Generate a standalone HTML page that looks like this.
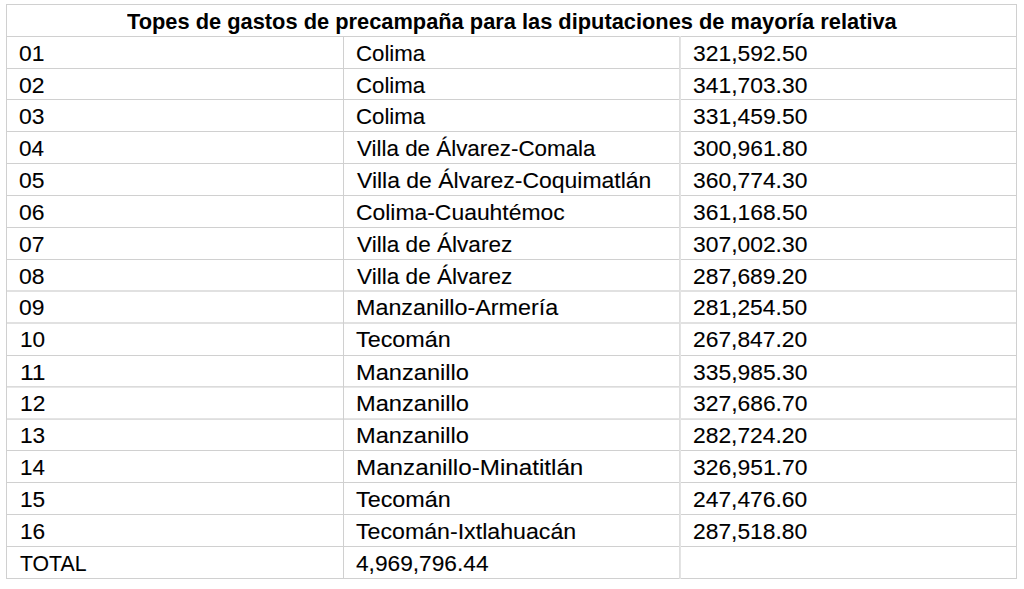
<!DOCTYPE html>
<html><head><meta charset="utf-8"><style>
html,body{margin:0;padding:0;background:#fff;width:1024px;height:589px;overflow:hidden;position:relative}
.h{position:absolute;height:1px;background:#c8c8c8;left:6px;width:1011px}
.v{position:absolute;width:1px;background:#c8c8c8}
.t{position:absolute;font-family:"Liberation Sans",sans-serif;font-size:22.4px;line-height:22.4px;white-space:pre;color:#000;transform-origin:0 0;-webkit-text-stroke:0.1px #000}
.b{font-weight:700;font-size:21.6px;line-height:21.6px;-webkit-text-stroke:0px #000}
</style></head><body>
<div class="h" style="top:4px;background:#d0d0d0"></div>
<div class="h" style="top:36px;background:#d0d0d0"></div>
<div class="h" style="top:68px;background:#d0d0d0"></div>
<div class="h" style="top:99px;background:#d0d0d0"></div>
<div class="h" style="top:131px;background:#d0d0d0"></div>
<div class="h" style="top:163px;background:#d0d0d0"></div>
<div class="h" style="top:195px;background:#d0d0d0"></div>
<div class="h" style="top:227px;background:#d0d0d0"></div>
<div class="h" style="top:259px;background:#d0d0d0"></div>
<div class="h" style="top:290px;background:#e1e1e1"></div>
<div class="h" style="top:291px;background:#e1e1e1"></div>
<div class="h" style="top:322px;background:#e1e1e1"></div>
<div class="h" style="top:323px;background:#e1e1e1"></div>
<div class="h" style="top:355px;background:#d0d0d0"></div>
<div class="h" style="top:386px;background:#dbdbdb"></div>
<div class="h" style="top:387px;background:#e7e7e7"></div>
<div class="h" style="top:418px;background:#e4e4e4"></div>
<div class="h" style="top:419px;background:#dedede"></div>
<div class="h" style="top:450px;background:#d0d0d0"></div>
<div class="h" style="top:482px;background:#d0d0d0"></div>
<div class="h" style="top:514px;background:#d0d0d0"></div>
<div class="h" style="top:546px;background:#d0d0d0"></div>
<div class="h" style="top:578px;background:#d0d0d0"></div>
<div class="v" style="left:6px;top:4px;height:575px;background:#d0d0d0"></div>
<div class="v" style="left:343px;top:36px;height:543px;background:#d0d0d0"></div>
<div class="v" style="left:679px;top:36px;height:543px;background:#dedede"></div>
<div class="v" style="left:680px;top:36px;height:543px;background:#e4e4e4"></div>
<div class="v" style="left:1016px;top:4px;height:575px;background:#d0d0d0"></div>
<div class="t b" style="left:126.68px;top:10.50px;transform:scaleX(1.0106)">Topes de gastos de precampaña para las diputaciones de mayoría relativa</div>
<div class="t" style="left:18.82px;top:43.00px;transform:scaleX(1.0203)">01</div>
<div class="t" style="left:355.97px;top:43.00px;transform:scaleX(0.9927)">Colima</div>
<div class="t" style="left:693.25px;top:43.00px;transform:scaleX(1.0206)">321,592.50</div>
<div class="t" style="left:18.81px;top:75.00px;transform:scaleX(1.0231)">02</div>
<div class="t" style="left:355.97px;top:75.00px;transform:scaleX(0.9927)">Colima</div>
<div class="t" style="left:693.25px;top:75.00px;transform:scaleX(1.0206)">341,703.30</div>
<div class="t" style="left:19.40px;top:106.00px;transform:scaleX(1.0220)">03</div>
<div class="t" style="left:355.97px;top:106.00px;transform:scaleX(0.9927)">Colima</div>
<div class="t" style="left:693.25px;top:106.00px;transform:scaleX(1.0206)">331,459.50</div>
<div class="t" style="left:19.41px;top:138.00px;transform:scaleX(1.0035)">04</div>
<div class="t" style="left:356.68px;top:138.00px;transform:scaleX(1.0001)">Villa de Álvarez-Comala</div>
<div class="t" style="left:693.25px;top:138.00px;transform:scaleX(1.0206)">300,961.80</div>
<div class="t" style="left:19.40px;top:170.00px;transform:scaleX(1.0214)">05</div>
<div class="t" style="left:356.66px;top:170.00px;transform:scaleX(1.0253)">Villa de Álvarez-Coquimatlán</div>
<div class="t" style="left:693.25px;top:170.00px;transform:scaleX(1.0206)">360,774.30</div>
<div class="t" style="left:19.40px;top:202.00px;transform:scaleX(1.0220)">06</div>
<div class="t" style="left:355.95px;top:202.00px;transform:scaleX(1.0226)">Colima-Cuauhtémoc</div>
<div class="t" style="left:693.25px;top:202.00px;transform:scaleX(1.0206)">361,168.50</div>
<div class="t" style="left:18.81px;top:234.00px;transform:scaleX(1.0231)">07</div>
<div class="t" style="left:356.68px;top:234.00px;transform:scaleX(1.0091)">Villa de Álvarez</div>
<div class="t" style="left:693.25px;top:234.00px;transform:scaleX(1.0206)">307,002.30</div>
<div class="t" style="left:19.40px;top:266.00px;transform:scaleX(1.0220)">08</div>
<div class="t" style="left:356.68px;top:266.00px;transform:scaleX(1.0091)">Villa de Álvarez</div>
<div class="t" style="left:693.12px;top:266.00px;transform:scaleX(1.0191)">287,689.20</div>
<div class="t" style="left:18.82px;top:297.00px;transform:scaleX(1.0198)">09</div>
<div class="t" style="left:356.35px;top:297.00px;transform:scaleX(1.0414)">Manzanillo-Armería</div>
<div class="t" style="left:693.12px;top:297.00px;transform:scaleX(1.0191)">281,254.50</div>
<div class="t" style="left:19.72px;top:329.00px;transform:scaleX(1.0087)">10</div>
<div class="t" style="left:355.80px;top:329.00px;transform:scaleX(1.0433)">Tecomán</div>
<div class="t" style="left:693.12px;top:329.00px;transform:scaleX(1.0191)">267,847.20</div>
<div class="t" style="left:19.79px;top:362.00px;transform:scaleX(1.1000)">11</div>
<div class="t" style="left:356.14px;top:362.00px;transform:scaleX(1.0553)">Manzanillo</div>
<div class="t" style="left:693.25px;top:362.00px;transform:scaleX(1.0206)">335,985.30</div>
<div class="t" style="left:19.71px;top:393.00px;transform:scaleX(1.0145)">12</div>
<div class="t" style="left:356.14px;top:393.00px;transform:scaleX(1.0553)">Manzanillo</div>
<div class="t" style="left:693.25px;top:393.00px;transform:scaleX(1.0206)">327,686.70</div>
<div class="t" style="left:19.72px;top:425.00px;transform:scaleX(1.0125)">13</div>
<div class="t" style="left:356.14px;top:425.00px;transform:scaleX(1.0553)">Manzanillo</div>
<div class="t" style="left:693.12px;top:425.00px;transform:scaleX(1.0191)">282,724.20</div>
<div class="t" style="left:19.74px;top:457.00px;transform:scaleX(1.0009)">14</div>
<div class="t" style="left:356.37px;top:457.00px;transform:scaleX(1.0808)">Manzanillo-Minatitlán</div>
<div class="t" style="left:693.25px;top:457.00px;transform:scaleX(1.0206)">326,951.70</div>
<div class="t" style="left:19.72px;top:489.00px;transform:scaleX(1.0122)">15</div>
<div class="t" style="left:355.80px;top:489.00px;transform:scaleX(1.0433)">Tecomán</div>
<div class="t" style="left:693.12px;top:489.00px;transform:scaleX(1.0191)">247,476.60</div>
<div class="t" style="left:19.72px;top:521.00px;transform:scaleX(1.0125)">16</div>
<div class="t" style="left:355.80px;top:521.00px;transform:scaleX(1.0344)">Tecomán-Ixtlahuacán</div>
<div class="t" style="left:693.12px;top:521.00px;transform:scaleX(1.0191)">287,518.80</div>
<div class="t" style="left:19.54px;top:553.00px;transform:scaleX(0.9481)">TOTAL</div>
<div class="t" style="left:356.40px;top:553.00px;transform:scaleX(1.0135)">4,969,796.44</div>
</body></html>
